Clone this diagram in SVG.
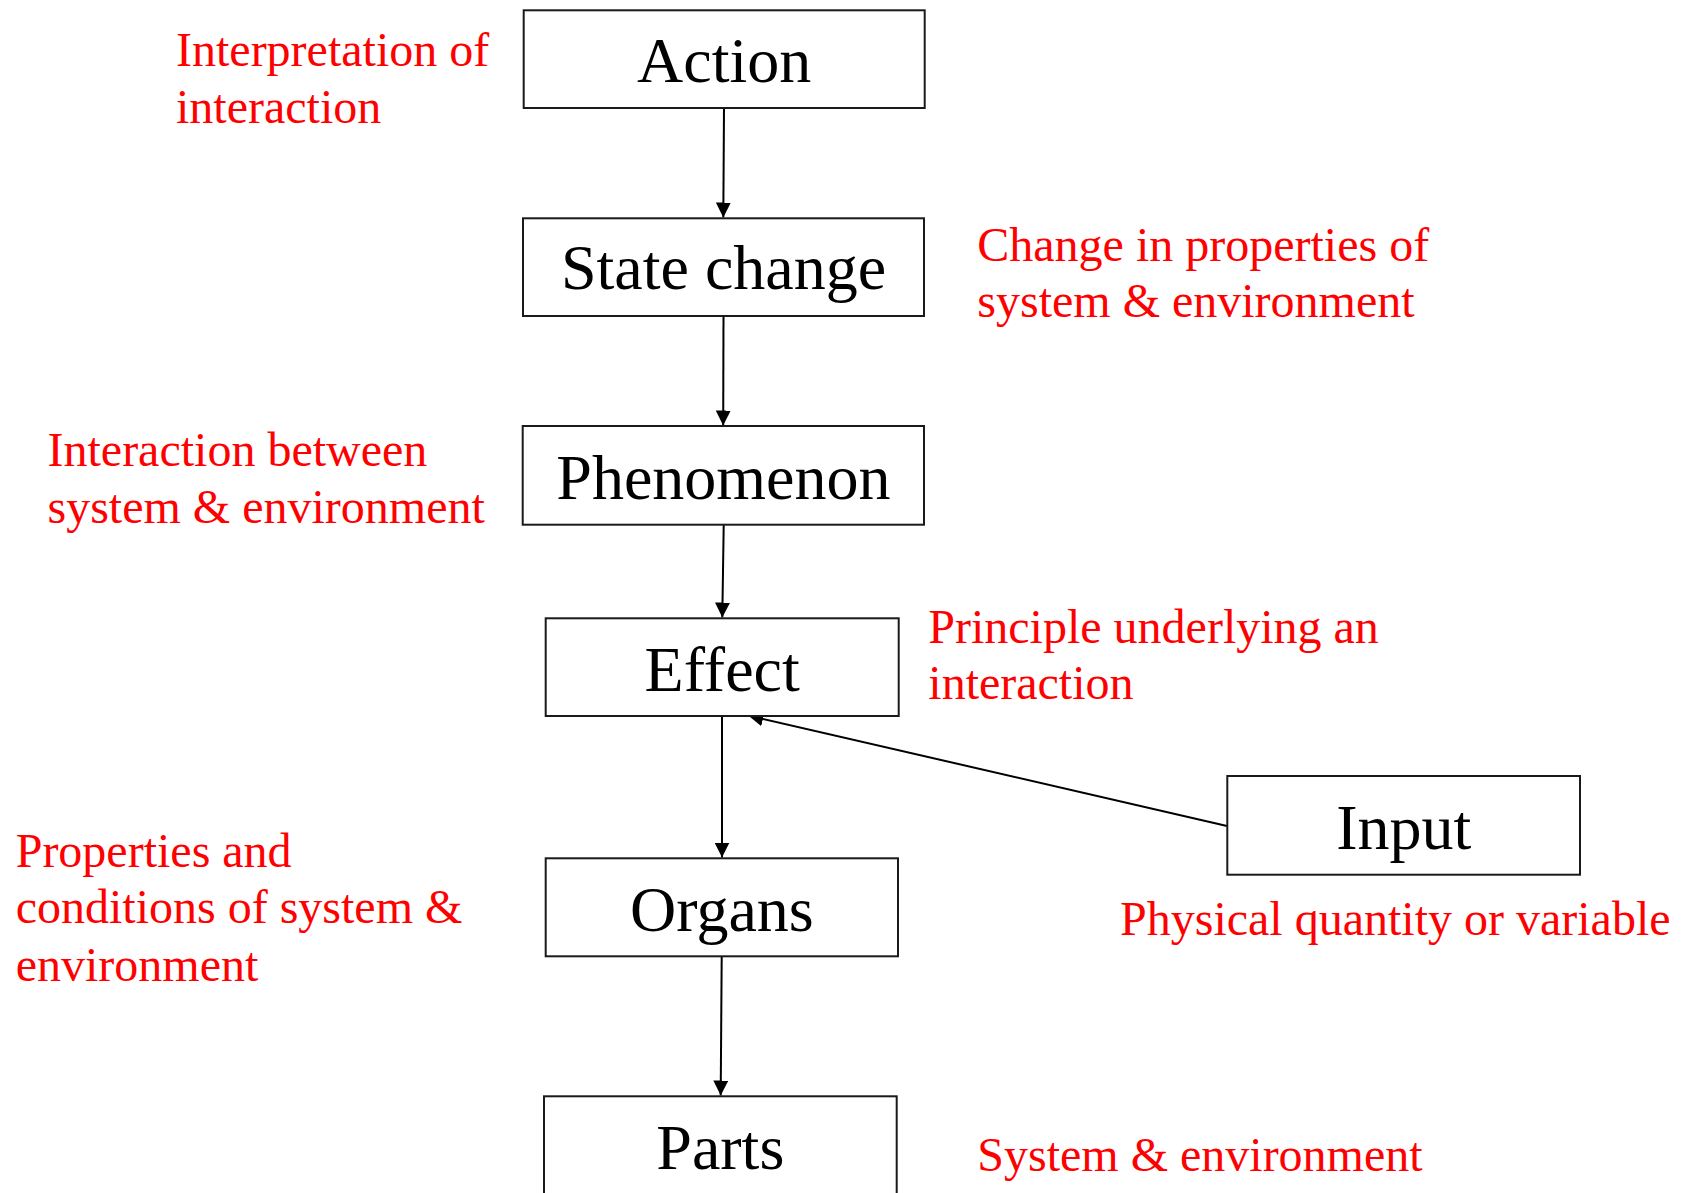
<svg xmlns="http://www.w3.org/2000/svg" width="1687" height="1193" viewBox="0 0 1687 1193">
  <style>
    .box { fill: #ffffff; stroke: #1a1a1a; stroke-width: 2; }
    .label { font-family: "Liberation Serif", "Times New Roman", serif; font-size: 64px; fill: #000000; text-anchor: middle; }
    .note { font-family: "Liberation Serif", "Times New Roman", serif; font-size: 48px; fill: #ff0000; }
    .link { stroke: #000000; stroke-width: 2; fill: none; marker-end: url(#arrow); }
  </style>
  <defs>
    <marker id="arrow" viewBox="0 0 15 15" refX="15" refY="7.5" markerWidth="15" markerHeight="15" markerUnits="userSpaceOnUse" orient="auto">
      <path d="M0,0 L15,7.5 L0,15 Z" fill="#000000"/>
    </marker>
  </defs>
  <rect width="1687" height="1193" fill="#ffffff"/>

  <!-- connectors -->
  <g id="connectors">
    <line class="link" x1="724" y1="108" x2="723.3" y2="217.5"/>
    <line class="link" x1="723.5" y1="316" x2="723.2" y2="425.5"/>
    <line class="link" x1="723.7" y1="525" x2="722.3" y2="617.5"/>
    <line class="link" x1="722" y1="716" x2="722" y2="857.5"/>
    <line class="link" x1="721.7" y1="956.3" x2="720.7" y2="1095.5"/>
    <line class="link" x1="1227" y1="826" x2="748.3" y2="715.5"/>
  </g>

  <!-- nodes -->
  <g id="node-action">
    <rect class="box" x="523.7" y="10.3" width="401" height="97.7"/>
    <text class="label" x="724.2" y="81.7">Action</text>
  </g>
  <g id="node-state-change">
    <rect class="box" x="523" y="218.3" width="401" height="97.7"/>
    <text class="label" x="723.5" y="289.3">State change</text>
  </g>
  <g id="node-phenomenon">
    <rect class="box" x="522.7" y="426" width="401.3" height="98.7"/>
    <text class="label" x="723.4" y="499">Phenomenon</text>
  </g>
  <g id="node-effect">
    <rect class="box" x="545.7" y="618.3" width="353" height="97.7"/>
    <text class="label" x="722.2" y="691">Effect</text>
  </g>
  <g id="node-organs">
    <rect class="box" x="545.7" y="858.3" width="352.3" height="98"/>
    <text class="label" x="721.9" y="931">Organs</text>
  </g>
  <g id="node-parts">
    <rect class="box" x="544" y="1096.3" width="352.7" height="110"/>
    <text class="label" x="720.3" y="1169.3">Parts</text>
  </g>
  <g id="node-input">
    <rect class="box" x="1227.3" y="776" width="352.7" height="98.7"/>
    <text class="label" x="1403.7" y="849.3">Input</text>
  </g>

  <!-- annotations -->
  <g id="notes">
    <text class="note" x="176" y="66">Interpretation of</text>
    <text class="note" x="176" y="123">interaction</text>
    <text class="note" x="977.3" y="261">Change in properties of</text>
    <text class="note" x="977.3" y="317">system &amp; environment</text>
    <text class="note" x="47.5" y="465.5">Interaction between</text>
    <text class="note" x="47.5" y="523">system &amp; environment</text>
    <text class="note" x="928.3" y="642.7">Principle underlying an</text>
    <text class="note" x="928.3" y="699">interaction</text>
    <text class="note" x="15.7" y="866.7">Properties and</text>
    <text class="note" x="15.7" y="923.3">conditions of system &amp;</text>
    <text class="note" x="15.7" y="981">environment</text>
    <text class="note" x="1120" y="935">Physical quantity or variable</text>
    <text class="note" x="977.3" y="1171">System &amp; environment</text>
  </g>
</svg>
